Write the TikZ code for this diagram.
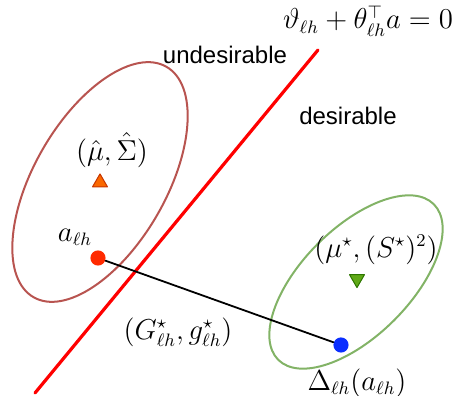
\documentclass[tikz,border=0pt]{standalone}
\usepackage{fontspec}
\newfontfamily\zonefont{Liberation Sans}
\usetikzlibrary{shapes.geometric}
\definecolor{brownline}{HTML}{B85450}
\definecolor{greenline}{HTML}{82B366}
\definecolor{orangefill}{HTML}{FA6800}
\definecolor{orangeedge}{HTML}{C73500}
\definecolor{greenfill}{HTML}{60A917}
\definecolor{greenedge}{HTML}{2D7600}
\definecolor{dotred}{HTML}{FF2A00}
\definecolor{dotblue}{HTML}{0A2EFF}
\tikzset{
	dot/.style={circle, inner sep=0pt, minimum size=7.6pt},
	tri/.style={regular polygon, regular polygon sides=3, inner sep=0pt, minimum size=8.6pt, line width=.5pt},
	zone/.style={font=\zonefont\fontsize{12}{14}\selectfont}
}
\begin{document}
\begin{tikzpicture}[x=.5pt, y=-.5pt, font=\fontsize{13.5}{16}\selectfont, line join=round, line cap=round]
	\useasboundingbox (0,0) rectangle (457,396);
	% boundary line
	\coordinate (L1) at (35,393);
	\coordinate (L2) at (318,50);
	% ellipse centres
	\coordinate (E1) at (100,182);
	\coordinate (E2) at (356,282);
	
	\draw[brownline, line width=1pt, rotate around={60:(E1)}] (E1) ellipse [x radius=133, y radius=66];
	\draw[greenline, line width=1pt, rotate around={45:(E2)}] (E2) ellipse [x radius=110, y radius=54];
	\draw[red, line width=1.6pt] (L1)--(L2);
	
	\node[tri, fill=orangefill, draw=orangeedge] (Mhat) at (100,182.5) {};
	\node[tri, fill=greenfill, draw=greenedge, shape border rotate=180] (Mstar) at (357,279) {};
	
	\node[dot, fill=dotred] (a) at (98,258) {};
	\node[dot, fill=dotblue] (D) at (341,345) {};
	\draw[line width=.9pt] (a)--(D);
	
	\node (eq) at (368,21) {$\vartheta_{\ell h}+\theta_{\ell h}^{\top}a=0$};
	\node[zone] (und) at (225,55) {undesirable};
	\node[zone] (des) at (348,116) {desirable};
	\node (lMhat) at (112,150) {$(\hat{\mu},\hat{\Sigma})$};
	\node (la) at (75,237) {$a_{\ell h}$};
	\node (lMstar) at (376,250) {$(\mu^{\star},(S^{\star})^{2})$};
	\node (lG) at (178,332) {$(G_{\ell h}^{\star},g_{\ell h}^{\star})$};
	\node (lD) at (357,383) {$\Delta_{\ell h}(a_{\ell h})$};
\end{tikzpicture}
\end{document}
